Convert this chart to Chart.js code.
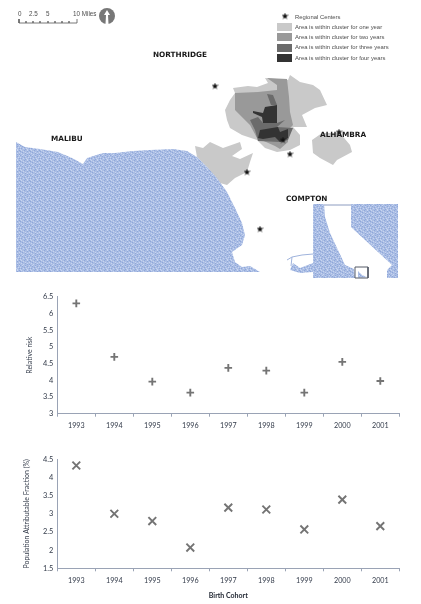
<!DOCTYPE html>
<html>
<head>
<meta charset="utf-8">
<title>Birth cohort clusters</title>
<script src="https://cdn.jsdelivr.net/npm/chart.js@4"></script>
<style>
    html, body { margin: 0; padding: 0; background: #fff; }
    #page { position: relative; width: 421px; height: 604px; overflow: hidden; filter: blur(0.35px); }
    #page canvas { position: absolute; left: 0; }
    .box { position: absolute; left: 0; width: 421px; }
    .place { position: absolute; font: bold 7.3px "DejaVu Sans", sans-serif; color: #1a1a1a; white-space: nowrap; line-height: 10px; }
    .note { position: absolute; font: 5.9px "Liberation Sans", sans-serif; color: #4d4d4d; white-space: nowrap; line-height: 8px; }
    .scaleText { position: absolute; font: 6.3px "Liberation Sans", sans-serif; color: #4d4d4d; white-space: nowrap; line-height: 8px; }
    .swatch { position: absolute; left: 277px; width: 15px; height: 8px; }
</style>
</head>
<body>
<div id="page">
    <div class="box" style="top:0;height:285px"><canvas id="mapChart"></canvas></div>
    <div class="box" style="top:285px;height:155px"><canvas id="riskChart"></canvas></div>
    <div class="box" style="top:440px;height:164px"><canvas id="pafChart"></canvas></div>

    <div class="scaleText" style="left:18px;top:10px">0</div>
    <div class="scaleText" style="left:29px;top:10px">2.5</div>
    <div class="scaleText" style="left:46px;top:10px">5</div>
    <div class="scaleText" style="left:73px;top:10px">10 Miles</div>

    <div class="note" style="left:295px;top:13px">Regional Centers</div>
    <div class="swatch" style="top:23px;background:#c9c9c9"></div>
    <div class="note" style="left:295px;top:23px">Area is within cluster for one year</div>
    <div class="swatch" style="top:33px;background:#999999"></div>
    <div class="note" style="left:295px;top:33px">Area is within cluster for two years</div>
    <div class="swatch" style="top:44px;background:#6b6b6b"></div>
    <div class="note" style="left:295px;top:43px">Area is within cluster for three years</div>
    <div class="swatch" style="top:54px;background:#333333"></div>
    <div class="note" style="left:295px;top:54px">Area is within cluster for four years</div>

    <div class="place" style="left:153px;top:50px">NORTHRIDGE</div>
    <div class="place" style="left:51px;top:134px">MALIBU</div>
    <div class="place" style="left:320px;top:130px">ALHAMBRA</div>
    <div class="place" style="left:286px;top:194px">COMPTON</div>
</div>

<script>
var cohorts = ["1993", "1994", "1995", "1996", "1997", "1998", "1999", "2000", "2001"];
var relativeRisk = [6.3, 4.7, 3.96, 3.63, 4.37, 4.29, 3.63, 4.55, 3.98];
var attributableFraction = [4.33, 3.0, 2.8, 2.07, 3.17, 3.12, 2.57, 3.39, 2.66];

var oneYearMain = [[265,78],[288,80],[290,75],[300,82],[313,85],[320,90],[327,105],[315,108],[302,115],[307,127],[293,127],[300,135],[300,145],[290,150],[277,152],[265,148],[257,140],[242,135],[230,128],[227,120],[225,110],[230,100],[235,93],[233,88],[248,86],[257,87],[268,83]];
var oneYearCoast = [[195,146],[203,148],[210,142],[223,148],[240,142],[242,149],[232,156],[240,159],[253,153],[250,162],[247,172],[235,178],[227,185],[220,183],[207,167],[197,157]];
var oneYearEast = [[312,140],[322,133],[340,133],[350,145],[352,152],[337,160],[333,165],[320,158],[313,153]];
var twoYears = [[267,78],[287,79],[289,97],[290,112],[293,125],[288,130],[288,142],[280,149],[275,146],[257,138],[250,125],[235,110],[235,93],[258,92],[277,90],[277,85]];
var threeYears = [[250,120],[258,117],[263,123],[277,123],[285,120],[277,127],[293,128],[288,140],[280,142],[258,141],[255,130]];
var threeYearsNorth = [[267,94],[273,95],[277,105],[271,105]];
var fourYears = [[265,107],[277,105],[277,123],[263,123],[262,117],[253,113],[253,111],[263,113]];
var fourYearsSouth = [[258,138],[260,130],[278,127],[280,132],[288,129],[288,138],[280,142],[275,137],[263,139]];
var ocean = [[16,142],[25,147],[40,149],[58,152],[72,158],[83,164],[87,158],[103,153],[115,153],[133,151],[150,150],[173,149],[187,151],[197,157],[207,167],[217,178],[227,192],[235,208],[242,223],[245,235],[242,245],[232,252],[235,262],[242,267],[250,266],[260,272],[16,272]];
var insetWest = [[313,204],[324,204],[325,217],[330,233],[338,250],[345,265],[354,269],[355,278],[313,278]];
var insetEast = [[351,204],[398,204],[398,278],[387,278],[387,270],[392,265],[351,227]];
var insetGulf = [[293,263],[300,268],[313,263],[313,272],[300,273],[290,270]];
var insetStrip = [[324,205],[351,205]];
var insetRiver = [[287,260],[292,257],[302,255],[313,254]];
var insetRiverBranch = [[292,257],[291,266]];
var insetDetail = [[358,271],[362,275],[367,277],[358,278]];
var insetFrame = [[355,267],[368,267],[368,278],[355,278],[355,267]];
var scaleBar = [[19,19],[19,23],[26,23],[26,21],[26,23],[33,23],[33,21],[33,23],[40,23],[40,21],[40,23],[48,23],[48,21],[48,23],[55,23],[55,21],[55,23],[62,23],[62,21],[62,23],[69,23],[69,21],[69,23],[77,23],[77,19]];
var northDisc = [[107,16]];
var northArrow = [[107,10],[110,15],[108,15],[108.5,24],[105.5,24],[106,15],[104,15]];
var regionalCenters = [[215,86],[283,140],[339,132],[290,154],[247,172],[260,229],[285,16]];

// speckle tile for the water, l = light fleck, d = dark fleck
var speckle = [
    ".l..d..l.d",
    "d..l...d..",
    "..d..l...l",
    ".l...d.l..",
    "...l...d.d",
    "d.l..d...l",
    "..d..l.d..",
    "l...d...l.",
    ".d.l..l..d",
    "l....d.l.."
];

function toPoints(list) {
    return list.map(function (p) {
        return {x: p[0], y: p[1]};
    });
}

function makeOceanPattern() {
    var c = document.createElement('canvas');
    c.width = 10;
    c.height = 10;
    var g = c.getContext('2d');
    g.fillStyle = "#aabde4";
    g.fillRect(0, 0, 10, 10);
    var x, y;
    for (y = 0; y < speckle.length; y++) {
        for (x = 0; x < speckle[y].length; x++) {
            if (speckle[y][x] === "l") {
                g.fillStyle = "#c8d5f0";
                g.fillRect(x, y, 1, 1);
            } else if (speckle[y][x] === "d") {
                g.fillStyle = "#8ea6da";
                g.fillRect(x, y, 1, 1);
            }
        }
    }
    return g.createPattern(c, 'repeat');
}

function makeStar() {
    var c = document.createElement('canvas');
    c.width = 7;
    c.height = 7;
    var g = c.getContext('2d');
    var i;
    g.fillStyle = "#111";
    g.beginPath();
    for (i = 0; i < 10; i++) {
        var r = i % 2 === 0 ? 3.6 : 1.5;
        var a = -Math.PI / 2 + i * Math.PI / 5;
        g.lineTo(3.5 + r * Math.cos(a), 3.7 + r * Math.sin(a));
    }
    g.closePath();
    g.fill();
    return c;
}

function area(list, color) {
    return {
        data: toPoints(list), showLine: true, fill: 'shape', tension: 0,
        backgroundColor: color, borderColor: color, borderWidth: 0, pointRadius: 0
    };
}

function line(list, color, width) {
    return {
        data: toPoints(list), showLine: true, fill: false, tension: 0,
        borderColor: color, borderWidth: width, pointRadius: 0
    };
}

function drawMap() {
    var sea = makeOceanPattern();
    var ctx = document.getElementById('mapChart').getContext('2d');
    // first dataset ends up on top, so the list runs from front to back
    new Chart(ctx, {
        type: 'scatter',
        data: {
            datasets: [
                {data: toPoints(regionalCenters), pointStyle: makeStar(), pointRadius: 3.5},
                area(northArrow, "#ffffff"),
                {data: toPoints(northDisc), pointRadius: 8, backgroundColor: "#777777", borderWidth: 0},
                line(scaleBar, "#555555", 0.8),
                line(insetFrame, "#555a66", 1),
                line(insetRiverBranch, "#9fb3dc", 1),
                line(insetRiver, "#9fb3dc", 1),
                line(insetStrip, "#8c9cc0", 1),
                area(insetDetail, sea),
                area(insetGulf, sea),
                area(insetEast, sea),
                area(insetWest, sea),
                area(ocean, sea),
                area(fourYearsSouth, "#333333"),
                area(fourYears, "#333333"),
                area(threeYearsNorth, "#6b6b6b"),
                area(threeYears, "#6b6b6b"),
                area(twoYears, "#999999"),
                area(oneYearEast, "#c9c9c9"),
                area(oneYearCoast, "#c9c9c9"),
                area(oneYearMain, "#c9c9c9")
            ]
        },
        options: {
            responsive: false,
            animation: false,
            layout: {padding: 0, autoPadding: false},
            plugins: {legend: {display: false}, tooltip: {enabled: false}},
            scales: {
                x: {display: false, min: 0, max: 421},
                y: {display: false, min: 0, max: 285, reverse: true}
            }
        }
    });
}

// both scatter panels share the same look, only the range and marker differ
function drawPanel(id, cfg) {
    var canvas = document.getElementById(id);
    var tickColor = "#333b4a";
    var axisColor = "#9aa3b5";
    new Chart(canvas.getContext('2d'), {
        type: 'line',
        data: {
            labels: cohorts,
            datasets: [{
                data: cfg.values,
                showLine: false,
                pointStyle: cfg.marker,
                pointRadius: cfg.radius,
                pointBorderColor: "#747474",
                pointBorderWidth: 1.9,
                pointBackgroundColor: "#747474"
            }]
        },
        options: {
            responsive: false,
            animation: false,
            layout: {padding: {top: cfg.top, right: 21.7, left: 0, bottom: 0}, autoPadding: false},
            plugins: {legend: {display: false}, tooltip: {enabled: false}},
            scales: {
                x: {
                    type: 'category',
                    offset: true,
                    grid: {offset: true, drawOnChartArea: false, color: axisColor, tickLength: 3},
                    border: {color: axisColor},
                    ticks: {color: tickColor, font: {family: "Lato", size: 7.2}, padding: 5, maxRotation: 0, autoSkip: false},
                    title: {
                        display: cfg.xTitle !== "",
                        text: cfg.xTitle,
                        color: "#222833",
                        font: {family: "Lato", size: 7, weight: 700},
                        padding: {top: 4, bottom: 4}
                    },
                    afterFit: function (scale) {
                        scale.height = cfg.axisHeight;
                    }
                },
                y: {
                    min: cfg.min,
                    max: cfg.max,
                    grid: {drawOnChartArea: false, color: axisColor, tickLength: 0},
                    border: {color: axisColor},
                    ticks: {
                        stepSize: 0.5,
                        color: tickColor,
                        font: {family: "Lato", size: 7.4},
                        padding: 4,
                        callback: function (value) {
                            return String(value);
                        }
                    },
                    title: {
                        display: true,
                        text: cfg.yTitle,
                        color: tickColor,
                        font: {family: "Lato", size: 7, weight: cfg.yTitleWeight},
                        padding: {top: cfg.yTitleLeft, bottom: 0}
                    },
                    afterFit: function (scale) {
                        scale.width = 57.3;
                    }
                }
            }
        }
    });
}

function main() {
    var mapCanvas = document.getElementById('mapChart');
    mapCanvas.width = 421;
    mapCanvas.height = 285;
    var riskCanvas = document.getElementById('riskChart');
    riskCanvas.width = 421;
    riskCanvas.height = 155;
    var pafCanvas = document.getElementById('pafChart');
    pafCanvas.width = 421;
    pafCanvas.height = 164;

    drawMap();
    drawPanel('riskChart', {
        values: relativeRisk, marker: 'cross', radius: 3.8, min: 3, max: 6.5, top: 11.7,
        axisHeight: 26.3, xTitle: "", yTitle: "Relative risk", yTitleWeight: 'normal', yTitleLeft: 26
    });
    drawPanel('pafChart', {
        values: attributableFraction, marker: 'crossRot', radius: 5.5, min: 1.5, max: 4.5, top: 19.3,
        axisHeight: 35.7, xTitle: "Birth Cohort", yTitle: "Population Attributable Fraction (%)", yTitleWeight: 'normal', yTitleLeft: 23
    });
}

main();
</script>
</body>
</html>
